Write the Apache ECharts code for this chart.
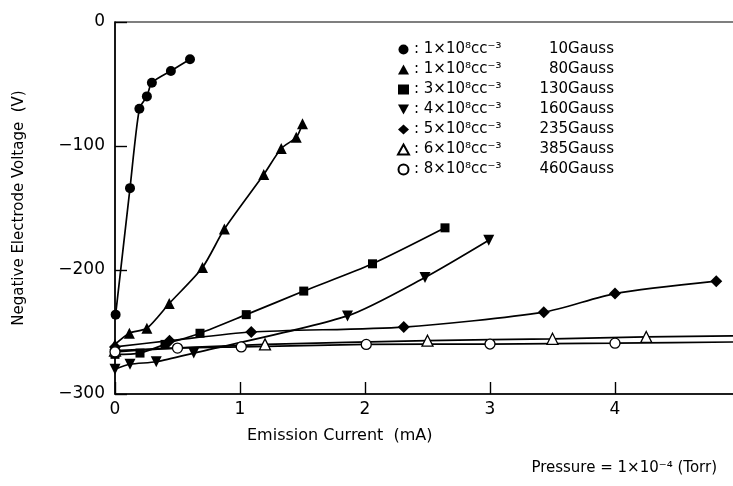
<!DOCTYPE html>
<html lang="en">
<head>
    <meta charset="UTF-8">
    <title>Negative Electrode Voltage</title>
    <script src="https://cdn.jsdelivr.net/npm/echarts@6/dist/echarts.min.js"></script>
    <style>
        body { margin: 0; background: #ffffff; }
        #chart { width: 733px; height: 486px; }
    </style>
</head>
<body>
<div id="chart"></div>
<script>
    // 各条件的标签
    const densities = ["1×10⁸cc⁻³", "1×10⁸cc⁻³", "3×10⁸cc⁻³", "4×10⁸cc⁻³", "5×10⁸cc⁻³", "6×10⁸cc⁻³", "8×10⁸cc⁻³"];
    const fields = ["10Gauss", "80Gauss", "130Gauss", "160Gauss", "235Gauss", "385Gauss", "460Gauss"];

    // 读图所得数据 [电流 mA, 电压 V]
    const s10 = [[0.005, -236], [0.12, -134], [0.195, -70], [0.255, -60], [0.295, -49], [0.447, -39.5], [0.60, -30]];
    const s80 = [[0, -260], [0.115, -251], [0.255, -247], [0.434, -227], [0.70, -198], [0.875, -167], [1.19, -123], [1.33, -102], [1.45, -93], [1.50, -82]];
    const s130 = [[0, -268], [0.2, -267], [0.40, -260], [0.68, -251], [1.05, -236], [1.51, -217], [2.06, -195], [2.64, -166]];
    const s160 = [[0, -280], [0.12, -276], [0.33, -274], [0.63, -267], [1.86, -237], [2.48, -206], [2.99, -176]];
    const s235 = [[0, -262], [0.436, -257], [1.09, -250], [2.31, -246], [3.43, -234], [4.0, -219], [4.81, -209]];
    const s385 = [[0, -265], [1.2, -260], [2.5, -257], [3.5, -255.5], [4.25, -254], [5.0, -253]];
    const s460 = [[0, -266], [0.5, -263], [1.01, -262], [2.01, -260], [3.0, -259.7], [4.0, -259], [5.0, -258]];

    const xTicks = [0, 1, 2, 3, 4, 5];
    const yTicks = [0, -100, -200, -300];

    const chart = echarts.init(document.getElementById('chart'));

    const symbolSizes = {circle: 10, rect: 9, triangle: 11, diamond: 12};

    function makeSeries(name, data, symbol, filled, rotate, lastBare) {
        let pts = data.map(function (p, i) {
            if (lastBare && i === data.length - 1) {
                return {value: p, symbol: 'none'};
            }
            return p;
        });
        return {
            name: name,
            type: 'line',
            data: pts,
            smooth: 0.25,
            symbol: symbol,
            symbolSize: symbolSizes[symbol],
            symbolRotate: rotate || 0,
            lineStyle: {color: '#000', width: 1.7},
            itemStyle: {
                color: filled ? '#000' : '#fff',
                borderColor: '#000',
                borderWidth: filled ? 0 : 1.3
            },
            z: filled ? 2 : 3
        };
    }

    const legendNames = densities.map(function (d, i) {
        return d + '|' + fields[i];
    });

    const option = {
        animation: false,
        textStyle: {fontFamily: 'DejaVu Sans', color: '#000'},
        grid: {
            left: 115, right: -7, top: 22, bottom: 92,
            outerBoundsMode: 'none',
            show: true, borderColor: '#000', borderWidth: 1.2
        },
        xAxis: {
            type: 'value', min: 0, max: 5, interval: 1,
            axisLine: {show: true, onZero: false, lineStyle: {color: '#000', width: 1.5}},
            axisTick: {show: true, inside: true, length: 12, lineStyle: {color: '#000', width: 1.4}},
            axisLabel: {
                fontSize: 17, color: '#000', margin: 7, showMaxLabel: true,
                formatter: function (v) { return xTicks.indexOf(v) >= 0 ? String(v) : ''; }
            },
            splitLine: {show: false}
        },
        yAxis: {
            type: 'value', min: -300, max: 0, interval: 100,
            name: 'Negative Electrode Voltage  (V)',
            nameLocation: 'middle', nameGap: 88, nameRotate: 90,
            nameTextStyle: {fontSize: 15, color: '#000'},
            axisLine: {show: true, onZero: false, lineStyle: {color: '#000', width: 1.5}},
            axisTick: {show: true, inside: true, length: 12, lineStyle: {color: '#000', width: 1.4}},
            axisLabel: {
                fontSize: 17, color: '#000', margin: 10,
                formatter: function (v) { return yTicks.indexOf(v) >= 0 ? String(v).replace('-', '−') : ''; }
            },
            splitLine: {show: false}
        },
        legend: {
            orient: 'vertical', left: 392, top: 37,
            itemGap: 5, itemWidth: 11, itemHeight: 10,
            data: [
                {name: legendNames[0], icon: 'circle'},
                {name: legendNames[1], icon: 'triangle'},
                {name: legendNames[2], icon: 'rect'},
                {name: legendNames[3], icon: 'path://M0,0L10,0L5,9Z'},
                {name: legendNames[4], icon: 'diamond'},
                {name: legendNames[5], icon: 'triangle'},
                {name: legendNames[6], icon: 'circle'}
            ],
            formatter: function (n) {
                let parts = n.split('|');
                return '{a|: ' + parts[0] + '}{b|' + parts[1] + '}';
            },
            textStyle: {
                fontSize: 15, color: '#000',
                rich: {
                    a: {fontSize: 15, width: 112, fontFamily: 'DejaVu Sans'},
                    b: {fontSize: 15, width: 88, align: 'right', fontFamily: 'DejaVu Sans'}
                }
            }
        },
        graphic: [{
            type: 'text', left: 247, top: 428,
            style: {text: 'Emission Current  (mA)', fontSize: 16, fill: '#000', fontFamily: 'DejaVu Sans'}
        }, {
            type: 'text', right: 16, top: 461,
            style: {text: 'Pressure = 1×10⁻⁴ (Torr)', fontSize: 15, fill: '#000', fontFamily: 'DejaVu Sans'}
        }],
        series: [
            makeSeries(legendNames[0], s10, 'circle', true),
            makeSeries(legendNames[1], s80, 'triangle', true),
            makeSeries(legendNames[2], s130, 'rect', true),
            makeSeries(legendNames[3], s160, 'triangle', true, 180),
            makeSeries(legendNames[4], s235, 'diamond', true),
            makeSeries(legendNames[5], s385, 'triangle', false, 0, true),
            makeSeries(legendNames[6], s460, 'circle', false, 0, true)
        ]
    };

    chart.setOption(option);
</script>
</body>
</html>
